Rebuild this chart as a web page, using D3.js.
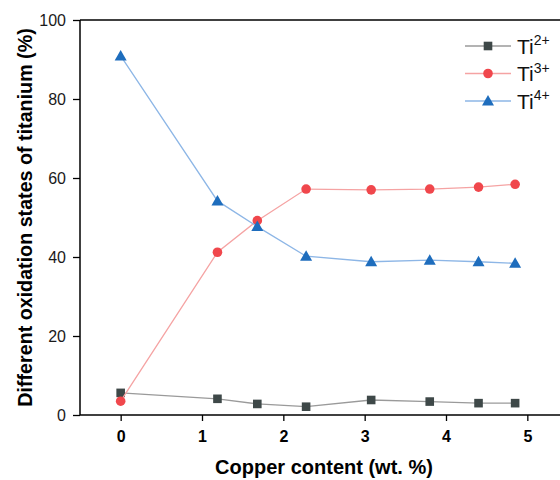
<!DOCTYPE html>
<html>
<head>
<meta charset="utf-8">
<script src="https://cdn.jsdelivr.net/npm/d3@7"></script>
<style>
  html, body { margin: 0; padding: 0; background: #fff; }
  svg { display: block; font-family: "Liberation Sans", Arial, sans-serif; }
</style>
</head>
<body>
<svg id="chart" width="560" height="480"></svg>
<script>
// Copper content (wt. %) of each sample
const copper = [0, 1.19, 1.68, 2.28, 3.08, 3.80, 4.40, 4.85];
// Share of each titanium oxidation state (%)
const ti2 = [5.6, 4.1, 2.8, 2.1, 3.8, 3.4, 3.0, 3.0];
const ti3 = [3.5, 41.2, 49.2, 57.2, 57.0, 57.2, 57.7, 58.4];
const ti4 = [90.9, 54.2, 47.7, 40.2, 38.8, 39.2, 38.8, 38.4];
const xTicks = [0, 1, 2, 3, 4, 5];
const yTicks = [0, 20, 40, 60, 80, 100];

const series = [
  { name: "Ti", sup: "2+", values: ti2, line: "#9a9a9a", mark: "#3e4848", shape: "square" },
  { name: "Ti", sup: "3+", values: ti3, line: "#f5a3a3", mark: "#f0474c", shape: "circle" },
  { name: "Ti", sup: "4+", values: ti4, line: "#8db6e6", mark: "#1e6dbd", shape: "triangle" }
];

const svg = d3.select("#chart");
const plotLeft = 80, plotTop = 20, plotBottom = 415, plotRight = 568;
const x = d3.scaleLinear().domain([-0.5, 5.5]).range([plotLeft, plotRight]);
const y = d3.scaleLinear().domain([0, 100]).range([plotBottom, plotTop]);

// frame: top edge
svg.append("line")
  .attr("x1", plotLeft).attr("x2", plotRight).attr("y1", plotTop).attr("y2", plotTop)
  .attr("stroke", "#000").attr("stroke-width", 1.5);

// x axis: major and minor ticks
const xAxis = svg.append("g").attr("transform", `translate(0,${plotBottom})`);
xAxis.call(d3.axisBottom(x).tickValues(d3.range(-0.5, 5.51, 0.5)).tickSize(4).tickFormat(""))
  .call(g => g.select(".domain").remove());
xAxis.call(d3.axisBottom(x).tickValues(xTicks).tickSize(6).tickPadding(10).tickFormat(d3.format("d")))
  .call(g => g.selectAll(".domain").remove());
xAxis.selectAll("line").attr("stroke", "#000").attr("stroke-width", 1.3);
xAxis.selectAll("text").attr("font-size", 16).attr("font-weight", "bold").attr("fill", "#000")
  .attr("font-family", "Liberation Sans, Arial, sans-serif");
svg.append("line")
  .attr("x1", plotLeft).attr("x2", plotRight).attr("y1", plotBottom).attr("y2", plotBottom)
  .attr("stroke", "#000").attr("stroke-width", 1.5);

// y axis: major and minor ticks
const yAxis = svg.append("g").attr("transform", `translate(${plotLeft},0)`);
yAxis.call(d3.axisLeft(y).tickValues(d3.range(0, 101, 10)).tickSize(4).tickFormat(""))
  .call(g => g.select(".domain").remove());
yAxis.call(d3.axisLeft(y).tickValues(yTicks).tickSize(7).tickPadding(7).tickFormat(d3.format("d")))
  .call(g => g.selectAll(".domain").remove());
yAxis.selectAll("line").attr("stroke", "#000").attr("stroke-width", 1.3);
yAxis.selectAll("text").attr("font-size", 16).attr("fill", "#1a1a1a")
  .attr("font-family", "Liberation Sans, Arial, sans-serif");
svg.append("line")
  .attr("x1", plotLeft).attr("x2", plotLeft).attr("y1", plotTop).attr("y2", plotBottom)
  .attr("stroke", "#000").attr("stroke-width", 1.5);

// axis titles
svg.append("text")
  .attr("x", x(2.5)).attr("y", 474)
  .attr("text-anchor", "middle").attr("font-size", 20).attr("font-weight", "bold")
  .text("Copper content (wt. %)");
svg.append("text")
  .attr("transform", `translate(31.5,${(plotTop + plotBottom) / 2}) rotate(-90)`)
  .attr("text-anchor", "middle").attr("font-size", 19.7).attr("font-weight", "bold")
  .text("Different oxidation states of titanium (%)");

// markers
function drawMark(g, shape, color, cx, cy) {
  if (shape === "square") {
    g.append("rect").attr("x", cx - 4.3).attr("y", cy - 4.3).attr("width", 8.6).attr("height", 8.6)
      .attr("fill", color);
  } else if (shape === "circle") {
    g.append("circle").attr("cx", cx).attr("cy", cy).attr("r", 4.8).attr("fill", color);
  } else {
    g.append("path")
      .attr("d", `M${cx},${cy - 6}L${cx + 6},${cy + 4.5}L${cx - 6},${cy + 4.5}Z`)
      .attr("fill", color);
  }
}

const line = d3.line().x((d, i) => x(copper[i])).y(d => y(d));
series.forEach(s => {
  const g = svg.append("g");
  g.append("path").datum(s.values).attr("d", line)
    .attr("fill", "none").attr("stroke", s.line).attr("stroke-width", 1.3);
  s.values.forEach((v, i) => drawMark(g, s.shape, s.mark, x(copper[i]), y(v)));
});

// legend
series.forEach((s, i) => {
  const ly = 46 + i * 27.5;
  const g = svg.append("g");
  g.append("line").attr("x1", 465).attr("x2", 511).attr("y1", ly).attr("y2", ly)
    .attr("stroke", s.line).attr("stroke-width", 1.3);
  drawMark(g, s.shape, s.mark, 488, ly);
  const t = g.append("text").attr("x", 517).attr("y", ly + 7.5).attr("font-size", 21).attr("fill", "#111");
  t.append("tspan").text(s.name);
  t.append("tspan").attr("dy", -8.5).attr("font-size", 14).text(s.sup);
});
</script>
</body>
</html>
